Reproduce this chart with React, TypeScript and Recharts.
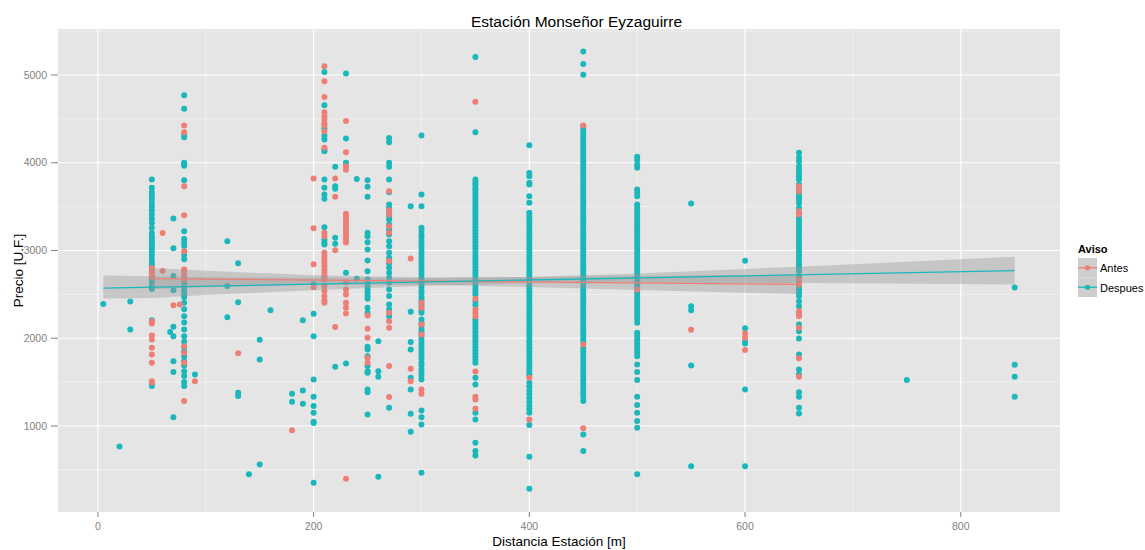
import React from 'react';
import { ComposedChart, Scatter, Area, Line, XAxis, YAxis, CartesianGrid, Label } from 'recharts';

const FONT = '"Liberation Sans", Arial, Helvetica, sans-serif';
const RED = '#EE7F77';
const TEAL = '#1AB7BB';
const TICK_GREY = '#7F7F7F';

const title = 'Estación Monseñor Eyzaguirre';
const xTitle = 'Distancia Estación [m]';
const yTitle = 'Precio [U.F.]';
const legendTitle = 'Aviso';
const seriesNames = ['Antes', 'Despues'];

const xTicks = [0, 200, 400, 600, 800];
const xMinor = [100, 300, 500, 700];
const yTicks = [1000, 2000, 3000, 4000, 5000];
const yMinor = [500, 1500, 2500, 3500, 4500, 5500];

// Distance (m) -> prices (U.F.) of "Despues" listings
const despuesCols: [number, number[]][] = [
  [5, [2390]],
  [20, [765]],
  [30, [2420, 2100]],
  [50, [3809, 3714, 3664, 3626, 3588, 3543, 3500, 3459, 3410, 3361, 3315, 3258, 3200, 3160, 3133, 3100, 3075, 3049, 3019, 2981, 2943, 2897, 2860, 2830, 2753, 2708, 2670, 2632, 2587, 2560, 2205, 1480, 1455]],
  [67, [2070]],
  [70, [3364, 3026, 2708, 2548, 2131, 2024, 1739, 1614, 1101]],
  [80, [4769, 4614, 4320, 4290, 4000, 3985, 3965, 3800, 3220, 3130, 3090, 3050, 2950, 2900, 2620, 2580, 2540, 2500, 2470, 2404, 2330, 2252, 2180, 2100, 2024, 1960, 1900, 1850, 1796, 1740, 1690, 1625, 1570, 1500, 1455]],
  [90, [1588]],
  [120, [3106, 2594, 2240]],
  [130, [2855, 2411, 1379, 1341]],
  [140, [449]],
  [150, [1983, 1758, 560]],
  [160, [2320]],
  [180, [1368, 1277]],
  [190, [2206, 1405, 1253]],
  [200, [2616, 2279, 2024, 1531, 1334, 1227, 1151, 1049, 1035, 354]],
  [210, [5035, 4655, 4390, 4310, 4264, 4150, 4131, 3809, 3714, 3638, 3589, 3266, 3125, 3095, 3068, 2700]],
  [220, [3953, 3732, 3703, 3145, 3076, 1675]],
  [230, [5016, 4276, 3999, 3296, 2746, 1713]],
  [240, [3816, 2678]],
  [250, [3800, 3725, 3612, 3201, 3163, 3095, 3011, 2886, 2764, 2670, 2632, 2594, 2556, 2518, 2480, 2450, 2347, 2290, 1903, 1872, 1796, 1683, 1625, 1607, 1417, 1386, 1132]],
  [260, [1967, 1625, 1561, 423]],
  [270, [4283, 4233, 3999, 3953, 3809, 3664, 3524, 3486, 3436, 3391, 3353, 3296, 3239, 3182, 3106, 3049, 2973, 2917, 2852, 2803, 2746, 2689, 2632, 2556, 2480, 2385, 2328, 2252, 1208]],
  [290, [3505, 2302, 1956, 1872, 1550, 1417, 1140, 935]],
  [300, [4310, 3638, 3505, 3258, 3225, 3185, 3150, 3110, 3070, 3035, 2995, 2960, 2920, 2885, 2845, 2810, 2770, 2735, 2695, 2660, 2620, 2585, 2545, 2510, 2470, 2435, 2395, 2360, 2320, 2290, 2214, 2175, 2140, 2100, 2065, 2025, 1990, 1950, 1915, 1875, 1840, 1800, 1765, 1725, 1690, 1650, 1615, 1575, 1531, 1178, 1101, 1018, 468]],
  [350, [5206, 4347, 3809, 3775, 3745, 3710, 3680, 3645, 3610, 3575, 3540, 3505, 3470, 3440, 3405, 3370, 3335, 3300, 3265, 3230, 3195, 3160, 3125, 3090, 3055, 3020, 2985, 2950, 2915, 2880, 2845, 2810, 2775, 2740, 2705, 2670, 2635, 2600, 2565, 2530, 2495, 2420, 2380, 2210, 2175, 2140, 2105, 2070, 2035, 2000, 1965, 1930, 1895, 1860, 1825, 1790, 1755, 1721, 1550, 1474, 1151, 1075, 809, 715, 665]],
  [400, [4199, 3884, 3846, 3771, 3752, 3618, 3543, 3429, 3390, 3352, 3315, 3278, 3240, 3202, 3165, 3128, 3090, 3052, 3015, 2978, 2940, 2902, 2865, 2828, 2790, 2752, 2715, 2678, 2640, 2602, 2565, 2528, 2490, 2452, 2415, 2378, 2340, 2302, 2265, 2228, 2190, 2152, 2115, 2078, 2040, 2002, 1965, 1928, 1890, 1852, 1815, 1778, 1740, 1702, 1665, 1628, 1590, 1569, 1493, 1450, 1405, 1365, 1320, 1280, 1235, 1195, 1151, 1011, 650, 286]],
  [450, [5269, 5126, 5004, 4416, 4380, 4345, 4308, 4270, 4235, 4198, 4160, 4125, 4088, 4050, 4015, 3978, 3940, 3905, 3868, 3830, 3795, 3758, 3720, 3685, 3648, 3610, 3575, 3538, 3500, 3465, 3428, 3390, 3355, 3318, 3280, 3245, 3208, 3170, 3135, 3098, 3060, 3025, 2988, 2950, 2915, 2878, 2840, 2805, 2768, 2730, 2695, 2658, 2620, 2585, 2548, 2510, 2475, 2438, 2400, 2365, 2328, 2290, 2255, 2218, 2180, 2145, 2108, 2070, 2035, 1998, 1960, 1890, 1850, 1810, 1770, 1730, 1690, 1650, 1610, 1570, 1530, 1490, 1450, 1410, 1370, 1330, 1284, 904, 714]],
  [500, [4067, 4030, 3980, 3942, 3695, 3660, 3618, 3524, 3488, 3450, 3412, 3375, 3338, 3300, 3262, 3225, 3188, 3150, 3112, 3075, 3038, 3000, 2962, 2925, 2888, 2850, 2812, 2775, 2738, 2700, 2662, 2625, 2588, 2520, 2482, 2445, 2408, 2370, 2332, 2295, 2258, 2220, 2177, 2062, 2025, 1988, 1950, 1912, 1875, 1835, 1796, 1702, 1614, 1523, 1334, 1238, 1151, 1056, 981, 449]],
  [550, [3535, 2366, 2320, 1690, 540]],
  [600, [2883, 2115, 1956, 1940, 1417, 540]],
  [650, [4113, 4056, 4017, 3960, 3923, 3884, 3846, 3809, 3752, 3714, 3657, 3618, 3581, 3543, 3486, 3429, 3372, 3334, 3296, 3258, 3220, 3182, 3144, 3106, 3068, 3030, 2992, 2954, 2917, 2879, 2841, 2803, 2765, 2708, 2680, 2594, 2556, 2518, 2480, 2423, 2366, 2157, 2081, 1998, 1815, 1645, 1588, 1386, 1334, 1208, 1143]],
  [750, [1523]],
  [850, [2579, 1698, 1561, 1334]],
];

// Distance (m) -> prices (U.F.) of "Antes" listings
const antesCols: [number, number[]][] = [
  [50, [2800, 2770, 2740, 2700, 2195, 2169, 2032, 1987, 1892, 1815, 1721, 1511, 1495]],
  [60, [3200, 2766]],
  [70, [2377]],
  [76, [2385]],
  [80, [4424, 4347, 3733, 3402, 2990, 2784, 2760, 2730, 2700, 2670, 1910, 1835, 1721, 1284]],
  [90, [1511]],
  [130, [1830]],
  [180, [953]],
  [200, [3820, 3254, 2844, 2582]],
  [210, [5099, 4928, 4750, 4575, 4530, 4492, 4446, 4427, 4359, 4170, 3201, 3163, 2973, 2935, 2897, 2859, 2821, 2783, 2745, 2707, 2669, 2593, 2537, 2480, 2434, 2404]],
  [220, [3820, 3612, 3004, 2127]],
  [230, [4477, 4120, 3960, 3920, 3420, 3390, 3350, 3310, 3270, 3230, 3195, 3160, 3120, 3090, 2639, 2556, 2499, 2404, 2347, 2282, 400]],
  [250, [2260, 2108, 2006, 1778, 1721]],
  [270, [3675, 3459, 3410, 3277, 3201, 2879, 2290, 2195, 2119, 1683, 1330]],
  [290, [2909, 1652, 1511]],
  [300, [2404, 2347, 2157, 2043, 1417, 1368]],
  [350, [4694, 2450, 2328, 2290, 2252, 1620, 1334, 1303, 1197]],
  [400, [1550, 1075]],
  [450, [4424, 1929, 973]],
  [500, [2556]],
  [550, [2097]],
  [600, [2055, 2006, 1865]],
  [650, [3732, 3675, 3448, 3410, 2670, 2640, 2613, 2309, 2280, 2252, 2119, 1773, 1561]],
];

// Linear fits (geom_smooth, method = lm) with their confidence bands
const bandX = [5, 50, 100, 200, 300, 400, 500, 600, 650, 700, 850];
const despuesLo = [2453, 2460, 2492, 2546, 2595, 2629, 2636, 2632, 2630, 2626, 2613];
const despuesHi = [2715, 2706, 2694, 2688, 2685, 2699, 2738, 2790, 2816, 2844, 2928];
const despuesFit = [2571, null, null, null, null, null, null, null, null, null, 2770];
const antesLo = [null, 2560, 2580, 2610, 2610, 2585, 2550, 2518, 2505, null, null];
const antesHi = [null, 2800, 2770, 2718, 2696, 2699, 2712, 2722, 2725, null, null];
const antesFit = [null, 2680, null, null, null, null, null, null, 2615, null, null];

const toPoints = (cols: [number, number[]][]) =>
  cols.flatMap(([x, ys]) => ys.map((y) => ({ x, y })));

const despuesPts = toPoints(despuesCols);
const antesPts = toPoints(antesCols);

const bandRows = bandX.map((x, i) => ({
  x,
  dBand: [despuesLo[i], despuesHi[i]],
  dFit: despuesFit[i],
  aBand: antesLo[i] == null ? null : [antesLo[i], antesHi[i]],
  aFit: antesFit[i],
}));

const makeDot = (color: string) => (props: any) => {
  const { cx, cy } = props;
  if (cx == null || cy == null || isNaN(cx) || isNaN(cy)) return <g />;
  return <circle cx={cx} cy={cy} r={3} fill={color} />;
};

const tickStyle = { fill: TICK_GREY, fontSize: 10.5, fontFamily: FONT };

export default function App() {
  return (
    <div
      style={{
        position: 'fixed',
        left: 8,
        top: 8,
        width: 1137,
        height: 542,
        fontFamily: FONT,
        background: '#fff',
      }}
    >
      <ComposedChart
        width={1137}
        height={542}
        data={bandRows}
        margin={{ top: 21, right: 85, bottom: 0, left: 0 }}
      >
        <CartesianGrid
          fill="#E5E5E5"
          stroke="#F2F2F2"
          strokeWidth={0.8}
          horizontalValues={yMinor}
          verticalValues={xMinor}
        />
        <CartesianGrid
          fill="none"
          stroke="#FFFFFF"
          strokeWidth={1.2}
          horizontalValues={yTicks}
          verticalValues={xTicks}
        />
        <XAxis
          type="number"
          dataKey="x"
          domain={[-37, 892]}
          ticks={xTicks}
          interval={0}
          allowDataOverflow
          height={38}
          tickSize={5}
          tickMargin={6}
          axisLine={false}
          tickLine={{ stroke: TICK_GREY }}
          tick={tickStyle}
        >
          <Label
            value={xTitle}
            position="insideBottom"
            offset={4}
            style={{ fill: '#000', fontSize: 13.5, fontFamily: FONT }}
          />
        </XAxis>
        <YAxis
          type="number"
          domain={[20, 5524]}
          ticks={yTicks}
          interval={0}
          allowDataOverflow
          width={50}
          tickSize={7}
          tickMargin={4}
          axisLine={false}
          tickLine={{ stroke: TICK_GREY }}
          tick={tickStyle}
        >
          <Label
            value={yTitle}
            position="insideLeft"
            angle={-90}
            offset={10}
            textAnchor="middle"
            style={{ fill: '#000', fontSize: 13.5, fontFamily: FONT, textAnchor: 'middle' }}
          />
        </YAxis>
        <Scatter name="Despues" data={despuesPts} dataKey="y" fill={TEAL} shape={makeDot(TEAL)} isAnimationActive={false} />
        <Scatter name="Antes" data={antesPts} dataKey="y" fill={RED} shape={makeDot(RED)} isAnimationActive={false} />
        <Area
          dataKey="aBand"
          type="linear"
          stroke="none"
          fill="#999999"
          fillOpacity={0.4}
          connectNulls={false}
          isAnimationActive={false}
          activeDot={false}
          zIndex={700}
        />
        <Area
          dataKey="dBand"
          type="linear"
          stroke="none"
          fill="#999999"
          fillOpacity={0.4}
          isAnimationActive={false}
          activeDot={false}
          zIndex={700}
        />
        <Line
          dataKey="aFit"
          type="linear"
          stroke={RED}
          strokeWidth={1.3}
          dot={false}
          activeDot={false}
          connectNulls
          isAnimationActive={false}
          zIndex={800}
        />
        <Line
          dataKey="dFit"
          type="linear"
          stroke={TEAL}
          strokeWidth={1.3}
          dot={false}
          activeDot={false}
          connectNulls
          isAnimationActive={false}
          zIndex={800}
        />
      </ComposedChart>

      <div
        style={{
          position: 'absolute',
          left: 0,
          top: 6,
          width: 1137,
          textAlign: 'center',
          fontSize: 15.5,
          lineHeight: '15.5px',
          color: '#000',
          fontFamily: FONT,
        }}
      >
        {title}
      </div>

      <svg
        style={{ position: 'absolute', left: 1060, top: 225, overflow: 'visible' }}
        width={77}
        height={70}
      >
        <text x={10} y={20} fontSize={11} fontWeight="bold" fontFamily={FONT} fill="#000">
          {legendTitle}
        </text>
        {seriesNames.map((name, i) => {
          const color = i === 0 ? RED : TEAL;
          const y0 = 25 + i * 19.5;
          return (
            <g key={name}>
              <rect x={10} y={y0} width={19} height={19.5} fill="#F2F2F2" />
              <rect x={10} y={y0} width={19} height={19.5} fill="#999999" fillOpacity={0.4} />
              <line x1={10} x2={29} y1={y0 + 9.75} y2={y0 + 9.75} stroke={color} strokeWidth={1.3} />
              <circle cx={19.5} cy={y0 + 9.75} r={2.6} fill={color} />
              <text x={32} y={y0 + 14} fontSize={11} fontFamily={FONT} fill="#000">
                {name}
              </text>
            </g>
          );
        })}
      </svg>
    </div>
  );
}
